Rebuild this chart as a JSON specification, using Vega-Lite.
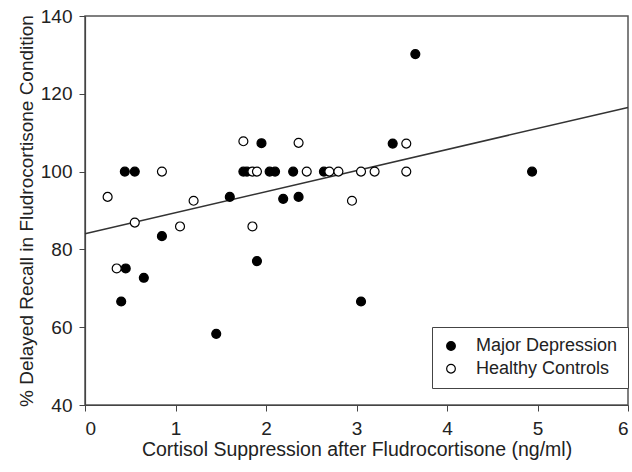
{
  "$schema": "https://vega.github.io/schema/vega-lite/v6.json",
  "width": 543,
  "height": 389,
  "autosize": "none",
  "padding": {"left": 85, "top": 16, "right": 4, "bottom": 67},
  "background": "white",
  "config": {
    "font": "Liberation Sans",
    "view": {"stroke": "#555", "strokeWidth": 1.5},
    "axis": {"domainColor": "#444", "domainWidth": 1.2, "tickColor": "#444", "tickSize": 6, "labelFont": "Liberation Sans", "titleFont": "Liberation Sans", "labelFontSize": 19, "titleFontSize": 19, "labelColor": "#222", "titleColor": "#222", "titleFontWeight": "normal", "grid": false}
  },
  "datasets": {
    "pts": [
      {"x": 0.40, "y": 66.6, "group": "Major Depression"},
      {"x": 0.44, "y": 100, "group": "Major Depression"},
      {"x": 0.45, "y": 75.1, "group": "Major Depression"},
      {"x": 0.55, "y": 100, "group": "Major Depression"},
      {"x": 0.65, "y": 72.7, "group": "Major Depression"},
      {"x": 0.85, "y": 83.4, "group": "Major Depression"},
      {"x": 1.45, "y": 58.3, "group": "Major Depression"},
      {"x": 1.60, "y": 93.5, "group": "Major Depression"},
      {"x": 1.75, "y": 100, "group": "Major Depression"},
      {"x": 1.79, "y": 100, "group": "Major Depression"},
      {"x": 1.90, "y": 77.0, "group": "Major Depression"},
      {"x": 1.95, "y": 107.3, "group": "Major Depression"},
      {"x": 2.04, "y": 100, "group": "Major Depression"},
      {"x": 2.10, "y": 100, "group": "Major Depression"},
      {"x": 2.19, "y": 93.0, "group": "Major Depression"},
      {"x": 2.30, "y": 100, "group": "Major Depression"},
      {"x": 2.36, "y": 93.5, "group": "Major Depression"},
      {"x": 2.64, "y": 100, "group": "Major Depression"},
      {"x": 3.05, "y": 66.6, "group": "Major Depression"},
      {"x": 3.40, "y": 107.2, "group": "Major Depression"},
      {"x": 3.65, "y": 130.2, "group": "Major Depression"},
      {"x": 4.94, "y": 100, "group": "Major Depression"},
      {"x": 0.25, "y": 93.5, "group": "Healthy Controls"},
      {"x": 0.35, "y": 75.1, "group": "Healthy Controls"},
      {"x": 0.55, "y": 86.9, "group": "Healthy Controls"},
      {"x": 0.85, "y": 100, "group": "Healthy Controls"},
      {"x": 1.05, "y": 85.9, "group": "Healthy Controls"},
      {"x": 1.20, "y": 92.5, "group": "Healthy Controls"},
      {"x": 1.75, "y": 107.8, "group": "Healthy Controls"},
      {"x": 1.85, "y": 100, "group": "Healthy Controls"},
      {"x": 1.90, "y": 100, "group": "Healthy Controls"},
      {"x": 1.85, "y": 85.9, "group": "Healthy Controls"},
      {"x": 2.36, "y": 107.4, "group": "Healthy Controls"},
      {"x": 2.45, "y": 100, "group": "Healthy Controls"},
      {"x": 2.70, "y": 100, "group": "Healthy Controls"},
      {"x": 2.80, "y": 100, "group": "Healthy Controls"},
      {"x": 2.95, "y": 92.5, "group": "Healthy Controls"},
      {"x": 3.05, "y": 100, "group": "Healthy Controls"},
      {"x": 3.20, "y": 100, "group": "Healthy Controls"},
      {"x": 3.55, "y": 107.2, "group": "Healthy Controls"},
      {"x": 3.55, "y": 100, "group": "Healthy Controls"}
    ],
    "fit": [
      {"x": 0, "y": 84.0},
      {"x": 6, "y": 116.5}
    ]
  },
  "layer": [
    {
      "data": {"name": "fit"},
      "mark": {"type": "line", "color": "#333", "strokeWidth": 1.5},
      "encoding": {
        "x": {"field": "x", "type": "quantitative"},
        "y": {"field": "y", "type": "quantitative"}
      }
    },
    {
      "data": {"name": "pts"},
      "mark": {"type": "point", "filled": true, "size": 80, "stroke": "black", "strokeWidth": 1.2, "opacity": 1},
      "encoding": {
        "x": {"field": "x", "type": "quantitative", "scale": {"domain": [0, 6], "nice": false, "zero": false},
              "axis": {"values": [0, 1, 2, 3, 4, 5, 6], "format": "d", "title": "Cortisol Suppression after Fludrocortisone (ng/ml)", "titleFontSize": 19.5, "labelPadding": 8, "titlePadding": 2}},
        "y": {"field": "y", "type": "quantitative", "scale": {"domain": [40, 140], "nice": false, "zero": false},
              "axis": {"values": [40, 60, 80, 100, 120, 140], "format": "d", "title": "% Delayed Recall in Fludrocortisone Condition", "labelPadding": 7, "titlePadding": 4}},
        "fill": {"field": "group", "type": "nominal",
                 "scale": {"domain": ["Major Depression", "Healthy Controls"], "range": ["black", "white"]},
                 "legend": {"title": null, "orient": "none", "legendX": 347, "legendY": 311, "strokeColor": "#444", "fillColor": "white",
                            "padding": 10, "labelFontSize": 18, "labelFont": "Liberation Sans", "labelColor": "#222",
                            "symbolType": "circle", "symbolSize": 75, "symbolStrokeColor": "black", "symbolStrokeWidth": 1.2,
                            "rowPadding": 4.7, "labelOffset": 16, "offset": 0}}
      }
    }
  ]
}
